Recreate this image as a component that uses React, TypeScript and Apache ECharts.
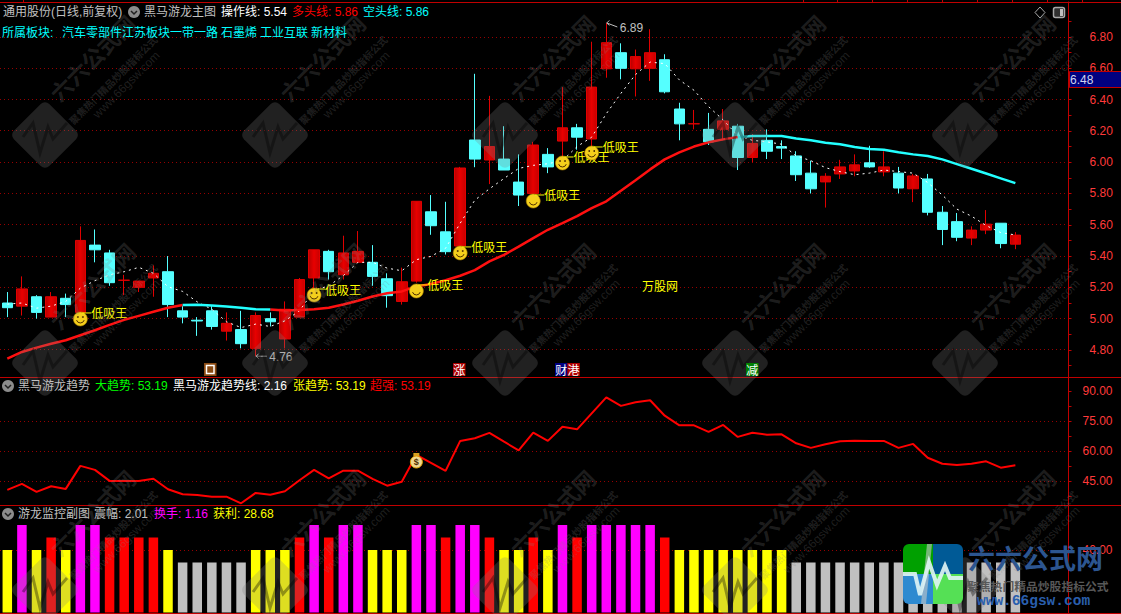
import React, { useEffect, useRef } from "react";
import * as echarts from "echarts";

const opens = [5.10,5.08,5.14,5.01,5.13,5.04,5.47,5.42,5.245,5.20,5.26,5.30,5.05,4.99,5.05,4.92,4.93,4.81,5.00,4.87,5.01,5.26,5.43,5.28,5.36,5.36,5.255,5.11,5.24,5.683,5.555,5.464,6.142,6.014,6.02,5.873,5.80,6.05,6.135,6.22,6.148,6.597,6.70,6.597,6.60,6.655,6.34,6.245,6.21,6.21,6.23,6.03,6.14,6.10,6.04,5.93,5.874,5.925,5.944,5.996,5.938,5.93,5.83,5.893,5.68,5.62,5.515,5.566,5.61,5.476];
const closes = [5.07,5.19,5.04,5.14,5.09,5.50,5.44,5.23,5.246,5.24,5.29,5.09,5.01,4.985,4.95,4.97,4.84,5.02,4.98,5.06,5.25,5.44,5.30,5.42,5.43,5.27,5.147,5.236,5.75,5.594,5.428,5.963,6.02,6.10,5.95,5.79,6.11,5.97,6.22,6.16,6.48,6.764,6.60,6.675,6.70,6.45,6.245,6.246,6.13,6.264,6.03,6.12,6.07,6.09,5.92,5.83,5.91,5.97,5.983,5.97,5.97,5.835,5.912,5.68,5.57,5.52,5.566,5.604,5.48,5.534];
const lows = [5.01,5.02,5.00,5.01,5.01,5.03,5.36,5.21,5.15,5.17,5.14,5.01,4.97,4.89,4.93,4.86,4.81,4.76,4.95,4.81,5.01,5.18,5.25,5.25,5.36,5.21,5.07,5.09,5.23,5.536,5.41,5.46,5.968,5.86,5.95,5.72,5.77,5.93,6.01,6.08,6.10,6.54,6.53,6.42,6.52,6.44,6.14,6.21,6.11,6.14,5.95,6.00,6.02,6.02,5.88,5.80,5.71,5.893,5.91,5.964,5.91,5.80,5.745,5.66,5.47,5.495,5.47,5.54,5.45,5.444];
const highs = [5.17,5.27,5.15,5.17,5.16,5.59,5.57,5.44,5.28,5.24,5.34,5.40,5.08,5.01,5.08,5.04,5.05,5.04,5.04,5.11,5.26,5.44,5.44,5.53,5.56,5.47,5.29,5.326,5.75,5.79,5.747,5.97,6.565,6.424,6.23,6.05,6.13,6.09,6.48,6.245,6.77,6.89,6.76,6.72,6.85,6.69,6.38,6.334,6.315,6.34,6.245,6.18,6.21,6.14,6.07,6.01,5.93,6.015,6.05,6.105,6.07,5.97,5.925,5.925,5.72,5.675,5.59,5.694,5.61,5.553];

const operateLine = [5.093,5.10,5.067,5.08,5.11,5.195,5.243,5.28,5.30,5.328,5.29,5.204,5.174,5.107,5.06,4.98,4.943,4.965,4.95,4.986,5.05,5.18,5.21,5.275,5.36,5.36,5.323,5.306,5.377,5.398,5.45,5.61,5.757,5.83,5.896,5.96,5.98,5.99,6.01,6.10,6.16,6.31,6.44,6.56,6.64,6.63,6.526,6.46,6.355,6.27,6.17,6.14,6.13,6.115,6.04,6.01,5.965,5.94,5.92,5.93,5.95,5.94,5.93,5.87,5.79,5.70,5.655,5.595,5.55,5.535];
const bullLine = [4.744,4.787,4.815,4.84,4.862,4.894,4.926,4.96,4.992,5.018,5.044,5.07,5.087,null,null,null,null,null,5.058,5.052,5.055,5.06,5.07,5.09,5.114,5.142,5.162,5.174,5.206,5.221,5.245,5.274,5.31,5.366,5.408,5.46,5.515,5.568,5.61,5.655,5.707,5.75,5.817,5.885,5.954,6.018,6.063,6.10,6.127,6.146,6.161];
const bearLine = [null,null,null,null,null,null,null,null,null,null,null,null,5.087,5.089,5.084,5.078,5.07,5.06,5.058,null,null,null,null,null,null,null,null,null,null,null,null,null,null,null,null,null,null,null,null,null,null,null,null,null,null,null,null,null,null,null,6.161,6.167,6.167,6.167,6.152,6.14,6.125,6.115,6.097,6.085,6.08,6.063,6.05,6.04,6.018,5.988,5.958,5.928,5.897,5.866];

const trendLine = [40.7,43.7,39.7,42.5,41.2,52.7,50.7,45.2,45.2,45.2,46.3,41,38.5,38.2,37.3,37.3,34,39.2,38.3,40,45.5,50.7,46.5,50.3,50.3,46.2,42.8,44.8,58.2,54.2,50.2,65.2,66.5,69.2,64.8,60.5,69.3,65.2,72.3,71,79,87,82.7,84.5,85.5,77.8,73,73,69.7,73.2,67.2,69.3,68.3,68.5,64,61.7,63.5,65,65.3,65.2,65.2,61.7,63.7,56.8,53.8,53.2,53.8,55,51.8,53];

const monitorBars = [40,56,40,48,40,56,56,48,48,48,48,40,32,32,32,32,32,40,40,40,48,56,48,56,56,40,40,40,56,56,48,56,56,48,40,40,48,40,56,48,56,56,56,56,56,48,40,40,40,40,40,40,40,40,32,32,32,32,32,32,32,32,32,32,32,32,32,32,32,32];

const signalIdx = [5,21,28,31,36,38,40];
const signalPrice = [4.998,5.151,5.177,5.42,5.752,5.995,6.059];
const extremaIdx = [41,17];
const extremaVal = [6.89,4.76];
const moneyIdx = [28];
const moneyVal = [55.15];

const priceLabels = [4.8,5.0,5.2,5.4,5.6,5.8,6.0,6.2,6.4,6.6,6.8];
const priceTicks = [4.7,4.8,4.9,5.0,5.1,5.2,5.3,5.4,5.5,5.6,5.7,5.8,5.9,6.0,6.1,6.2,6.3,6.4,6.5,6.6,6.7,6.8,6.9];
const trendLabels = [45,60,75,90];
const trendTicks = [37.5,45,52.5,60,67.5,75,82.5,90];
const trendGrid = [45,60,75];
const monitorLabels = [40];
const categories = Array.from({ length: 73 }, (_, i) => String(i + 1));

const FONT = '"Liberation Sans","Noto Sans CJK SC",sans-serif';
const CJK = '"Noto Sans CJK SC",sans-serif';
const AXIS_RED = "#c00000";
const GRAY = "#c0c0c0";
const WM = "rgba(128,128,128,0.24)";

function t(text: string, x: number, y: number, fill: string, font = `12px ${FONT}`, z = 70) {
  return { type: "text", x, y, z, silent: true, style: { text, fill, font, align: "left", verticalAlign: "middle" } };
}

function dropIcon(x: number, y: number) {
  return [
    { type: "circle", z: 70, silent: true, shape: { cx: x, cy: y, r: 6 }, style: { fill: "#8c8c8c" } },
    { type: "polyline", z: 71, silent: true, shape: { points: [[x - 3, y - 1], [x, y + 2], [x + 3, y - 1]] }, style: { stroke: "#202020", lineWidth: 1.5, fill: "none" } },
  ];
}

function badge(text: string, x: number, bg: string) {
  return [
    { type: "rect", z: 70, silent: true, shape: { x, y: 363, width: 12.5, height: 13 }, style: { fill: bg } },
    { type: "text", z: 71, silent: true, x: x + 0.3, y: 369.5, style: { text, fill: "#ffffff", font: `12px ${CJK}`, align: "left", verticalAlign: "middle" } },
  ];
}

function sep(y: number) {
  return { type: "line", z: 40, silent: true, shape: { x1: 0, y1: y, x2: 1121, y2: y }, style: { stroke: AXIS_RED, lineWidth: 1 } };
}

function watermark(cx: number, cy: number) {
  return [
    {
      type: "group", x: cx, y: cy, rotation: Math.PI / 4, silent: true,
      children: [
        { type: "rect", z: 60, shape: { x: -25, y: -25, width: 50, height: 50, r: 6 }, style: { fill: "rgba(128,128,128,0.26)" } },
        { type: "text", z: 60, x: 88, y: -22, style: { text: "六六公式网", fill: WM, font: `bold 22px ${CJK}`, align: "center", verticalAlign: "middle" } },
        { type: "text", z: 60, x: 87, y: 9, style: { text: "聚焦热门精品炒股指标公式", fill: WM, font: `bold 10px ${CJK}`, align: "center", verticalAlign: "middle" } },
        { type: "text", z: 60, x: 93, y: 22, style: { text: "www.66gsw.com", fill: WM, font: `12px ${FONT}`, align: "center", verticalAlign: "middle" } },
      ],
    },
    {
      type: "polyline", z: 61, silent: true,
      shape: { points: [[cx - 22, cy + 2], [cx - 12, cy - 12], [cx - 5, cy + 18], [cx + 3, cy - 8], [cx + 8, cy + 4], [cx + 22, cy - 12]] },
      style: { stroke: "rgba(0,0,0,0.35)", lineWidth: 3, fill: "none" },
    },
  ];
}

function levelLines(chart: any) {
  const sets: [number, number[]][] = [[0, priceLabels], [1, trendGrid], [2, monitorLabels]];
  const out: any[] = [];
  for (const [axis, values] of sets) {
    for (const v of values) {
      const y = Math.floor(chart.convertToPixel({ yAxisIndex: axis }, v)) + 0.5;
      out.push({ type: "line", z: 1, silent: true, shape: { x1: 0, y1: y, x2: 1068, y2: y }, style: { stroke: "#960000", lineWidth: 1, lineDash: [1, 3] } });
    }
  }
  return out;
}

function buildGraphic() {
  const el: any[] = [];
  for (const cy of [135, 363, 590]) for (const cx of [45, 275, 505, 735, 965]) el.push(...watermark(cx, cy));
  el.push(sep(2.5), sep(377.5), sep(505.5), sep(613.5));
  for (const x of [23.5, 803.5, 837.5, 872.5, 907.5, 942.5, 977.5, 1012.5, 1047.5, 1082.5]) {
    el.push({ type: "line", z: 40, silent: true, shape: { x1: x, y1: 0, x2: x, y2: 2 }, style: { stroke: AXIS_RED, lineWidth: 1 } });
  }
  el.push(t("通用股份(日线,前复权)", 3, 12, GRAY), ...dropIcon(134, 12));
  el.push(t("黑马游龙主图", 144, 12, GRAY));
  el.push(t("操作线: 5.54", 221, 12, "#ffffff"));
  el.push(t("多头线: 5.86", 292, 12, "#ff0000"));
  el.push(t("空头线: 5.86", 363, 12, "#00ffff"));
  el.push(t("所属板块:", 2, 33, "#00ffff"));
  el.push(t("汽车零部件江苏板块一带一路", 62, 33, "#00ffff"));
  el.push(t("石墨烯", 221, 33, "#00ffff"));
  el.push(t("工业互联", 260, 33, "#00ffff"));
  el.push(t("新材料", 311, 33, "#00ffff"));
  el.push(...dropIcon(8, 386), t("黑马游龙趋势", 18, 386, GRAY));
  el.push(t("大趋势: 53.19", 95, 386, "#00ff00"));
  el.push(t("黑马游龙趋势线: 2.16", 173, 386, "#ffffff"));
  el.push(t("张趋势: 53.19", 293, 386, "#ffff00"));
  el.push(t("超强: 53.19", 370, 386, "#ff0000"));
  el.push(...dropIcon(8, 514), t("游龙监控副图", 18, 514, GRAY));
  el.push(t("震幅: 2.01", 94, 514, GRAY));
  el.push(t("换手: 1.16", 154, 514, "#ff00ff"));
  el.push(t("获利: 28.68", 213, 514, "#ffff00"));
  el.push(t("万股网", 642, 287, "#ffff00"));
  // right-hand price box
  el.push({ type: "rect", z: 65, silent: true, shape: { x: 1069.5, y: 71.5, width: 52, height: 16 }, style: { fill: "#000080", stroke: AXIS_RED, lineWidth: 1 } });
  el.push(t("6.48", 1070, 79.5, "#d0d4f0"));
  // corner icons
  el.push({ type: "polygon", z: 70, silent: true, shape: { points: [[1040, 7], [1045, 12.5], [1040, 18], [1035, 12.5]] }, style: { fill: "none", stroke: "#a8a8a8", lineWidth: 1 } });
  el.push({ type: "rect", z: 70, silent: true, shape: { x: 1053.5, y: 7.5, width: 11, height: 10, r: 2 }, style: { fill: "#303030", stroke: "#a8a8a8", lineWidth: 1.5 } });
  el.push({ type: "rect", z: 71, silent: true, shape: { x: 1060, y: 9, width: 3, height: 7 }, style: { fill: "#c0c0c0" } });
  // event badges
  el.push({ type: "rect", z: 70, silent: true, shape: { x: 204, y: 363, width: 12.5, height: 13 }, style: { fill: "#8a4a12" } });
  el.push({ type: "rect", z: 71, silent: true, shape: { x: 206.5, y: 365.5, width: 7.5, height: 8 }, style: { fill: "none", stroke: "#ffffff", lineWidth: 1.5 } });
  el.push(...badge("涨", 453, "#a80000"), ...badge("财", 555, "#000080"), ...badge("港", 567.3, "#b00000"), ...badge("减", 746, "#008000"));
  // corner logo
  el.push({ type: "rect", z: 80, silent: true, shape: { x: 903, y: 544, width: 30, height: 30, r: [6, 0, 0, 0] }, style: { fill: "#00a000" } });
  el.push({ type: "rect", z: 80, silent: true, shape: { x: 933, y: 544, width: 30, height: 30, r: [0, 6, 0, 0] }, style: { fill: "#005a96" } });
  el.push({ type: "rect", z: 80, silent: true, shape: { x: 903, y: 574, width: 30, height: 30, r: [0, 0, 0, 6] }, style: { fill: "#2e8ad0" } });
  el.push({ type: "rect", z: 80, silent: true, shape: { x: 933, y: 574, width: 30, height: 30, r: [0, 0, 6, 0] }, style: { fill: "#55e055" } });
  el.push({ type: "polygon", z: 81, silent: true, shape: { points: [[927, 544], [932, 544], [926, 604], [921, 604]] }, style: { fill: "rgba(200,200,200,0.6)" } });
  el.push({ type: "polyline", z: 82, silent: true, shape: { points: [[903, 574], [915, 574], [920, 595], [929, 562], [937, 585], [945, 566], [950, 578], [963, 578]] }, style: { stroke: "rgba(225,245,245,0.9)", lineWidth: 4, fill: "none" } });
  el.push(t("六六公式网", 968, 557, "#2c5590", `bold 27px ${CJK}`, 82));
  el.push(t("聚焦热门精品炒股指标公式", 967, 585, "#585858", `bold 11.8px ${CJK}`, 82));
  el.push(t("www.66gsw.com", 977, 601, "#2a5fae", `bold 14.5px "Liberation Mono",monospace`, 82));
  return el;
}

function renderSignal(_: any, api: any) {
  const [x, y] = api.coord([api.value(0), api.value(1)]);
  return {
    type: "group",
    children: [
      { type: "circle", shape: { cx: x, cy: y, r: 7 }, style: { fill: "#f4cf1c", stroke: "#b58a00", lineWidth: 0.6 } },
      { type: "circle", shape: { cx: x - 2.5, cy: y - 2, r: 0.9 }, style: { fill: "#503000" } },
      { type: "circle", shape: { cx: x + 2.5, cy: y - 2, r: 0.9 }, style: { fill: "#503000" } },
      { type: "arc", shape: { cx: x, cy: y, r: 4, startAngle: 0.3, endAngle: Math.PI - 0.3 }, style: { stroke: "#503000", lineWidth: 1, fill: "none" } },
      { type: "line", shape: { x1: x + 2, y1: y - 6, x2: x + 11, y2: y - 6 }, style: { stroke: "#ffff00", lineWidth: 1 } },
      { type: "text", x: x + 11, y: y - 6, style: { text: "低吸王", fill: "#ffff00", font: `12px ${CJK}`, align: "left", verticalAlign: "middle" } },
    ],
  };
}

function renderExtrema(_: any, api: any) {
  const v = api.value(1);
  const [x, y] = api.coord([api.value(0), v]);
  const up = v > 6;
  const y2 = up ? y + 4 : y;
  return {
    type: "group",
    children: [
      { type: "polyline", shape: { points: [[x + 11, y2], [x + 0.5, y]] }, style: { stroke: GRAY, lineWidth: 1, fill: "none" } },
      { type: "polyline", shape: { points: [[x + 3, y - 2.5], [x + 0.5, y], [x + 3, y + 2.5]] }, style: { stroke: GRAY, lineWidth: 1, fill: "none" } },
      { type: "text", x: x + 13.5, y: y2 + 1, style: { text: v.toFixed(2), fill: GRAY, font: `12px ${FONT}`, align: "left", verticalAlign: "middle" } },
    ],
  };
}

function renderMoney(_: any, api: any) {
  const [x, y] = api.coord([api.value(0), api.value(1)]);
  return {
    type: "group",
    children: [
      { type: "rect", shape: { x: x - 3, y: y - 8, width: 6, height: 3 }, style: { fill: "#d8a020" } },
      { type: "circle", shape: { cx: x, cy: y + 1, r: 6 }, style: { fill: "#f0d890", stroke: "#e0a000", lineWidth: 1 } },
      { type: "text", x, y: y + 1, style: { text: "$", fill: "#503000", font: `bold 9px ${FONT}`, align: "center", verticalAlign: "middle" } },
    ],
  };
}

const GRID_LEFT = -1.5;
const GRID_W = 1068;
const upFill = new echarts.graphic.LinearGradient(0, 0, 1, 0, [
  { offset: 0, color: "#b80000" },
  { offset: 0.5, color: "#e80000" },
  { offset: 1, color: "#c80000" },
]);

function makeOption() {
  const xAxis = [0, 1, 2].map((g) => ({ type: "category", gridIndex: g, data: categories, show: false, boundaryGap: true }));
  const labelAxis = (g: number, min: number, max: number, labels: number[], ticks: number[], margin: number) => ({
    type: "value", gridIndex: g, position: "right", offset: 2, min, max,
    axisLine: { show: true, lineStyle: { color: AXIS_RED, width: 1 } },
    axisTick: { show: true, length: 3, customValues: ticks, lineStyle: { color: AXIS_RED } },
    axisLabel: { show: true, customValues: labels, margin, color: "#ff3a3a", fontFamily: FONT, fontSize: 12, formatter: (v: number) => v.toFixed(2), align: "left" },
    splitLine: { show: false },
  });
  const P_MIN = 4.627, P_MAX = 7.024, T_MIN = 33.15, T_MAX = 97.15, M_MIN = 0, M_MAX = 68.8;
  return {
    animation: false,
    backgroundColor: "#000000",
    grid: [
      { left: GRID_LEFT, width: GRID_W, top: 2, height: 375 },
      { left: GRID_LEFT, width: GRID_W, top: 377, height: 128 },
      { left: GRID_LEFT, width: GRID_W, top: 505, height: 107.5 },
    ],
    xAxis,
    yAxis: [
      labelAxis(0, P_MIN, P_MAX, priceLabels, priceTicks, 21),
      labelAxis(1, T_MIN, T_MAX, trendLabels, trendTicks, 14),
      labelAxis(2, M_MIN, M_MAX, monitorLabels, monitorLabels, 14),
    ],
    series: [
      {
        name: "K线", type: "candlestick", xAxisIndex: 0, yAxisIndex: 0, barWidth: 11, z: 3, silent: true,
        data: opens.map((o, i) => [o, closes[i], lows[i], highs[i]]),
        itemStyle: { color: upFill, color0: "#55ffff", borderColor: "#e00000", borderColor0: "#55ffff", borderWidth: 1 },
      },
      { name: "操作线", type: "line", xAxisIndex: 0, yAxisIndex: 0, data: operateLine, z: 4, silent: true, symbol: "none", connectNulls: false, lineStyle: { color: "#ffffff", width: 1, type: [2, 4] } },
      { name: "多头线", type: "line", xAxisIndex: 0, yAxisIndex: 0, data: bullLine, z: 5, silent: true, symbol: "none", connectNulls: false, lineStyle: { color: "#ff1010", width: 2.5 } },
      { name: "空头线", type: "line", xAxisIndex: 0, yAxisIndex: 0, data: bearLine, z: 5, silent: true, symbol: "none", connectNulls: false, lineStyle: { color: "#22ffff", width: 2.5 } },
      { name: "低吸王", type: "custom", xAxisIndex: 0, yAxisIndex: 0, z: 6, silent: true, clip: false, renderItem: renderSignal, encode: { x: 0, y: 1 }, data: signalIdx.map((d, i) => [d, signalPrice[i]]) },
      { name: "高低点", type: "custom", xAxisIndex: 0, yAxisIndex: 0, z: 6, silent: true, clip: false, renderItem: renderExtrema, encode: { x: 0, y: 1 }, data: extremaIdx.map((d, i) => [d, extremaVal[i]]) },
      { name: "趋势", type: "line", xAxisIndex: 1, yAxisIndex: 1, data: trendLine, z: 5, silent: true, symbol: "none", lineStyle: { color: "#ff0000", width: 2 } },
      { name: "钱袋", type: "custom", xAxisIndex: 1, yAxisIndex: 1, z: 6, silent: true, clip: false, renderItem: renderMoney, encode: { x: 0, y: 1 }, data: moneyIdx.map((d, i) => [d, moneyVal[i]]) },
      {
        name: "监控", type: "bar", xAxisIndex: 2, yAxisIndex: 2, barWidth: 9.5, z: 3, silent: true,
        data: monitorBars,
        itemStyle: {
          color: (p: any) => (p.value >= 56 ? "#ff00ff" : p.value >= 48 ? "#ff0000" : p.value >= 40 ? "#ffff00" : "#c0c0c0"),
        },
      },
    ],
  };
}

export default function App() {
  const ref = useRef<HTMLDivElement>(null);
  useEffect(() => {
    document.body.style.margin = "0";
    document.body.style.background = "#000";
    const chart = echarts.init(ref.current!, undefined, { renderer: "svg" });
    chart.setOption(makeOption() as any);
    chart.setOption({ graphic: { elements: [...levelLines(chart), ...buildGraphic()] } } as any);
    return () => chart.dispose();
  }, []);
  return <div ref={ref} style={{ width: 1121, height: 614 }} />;
}
